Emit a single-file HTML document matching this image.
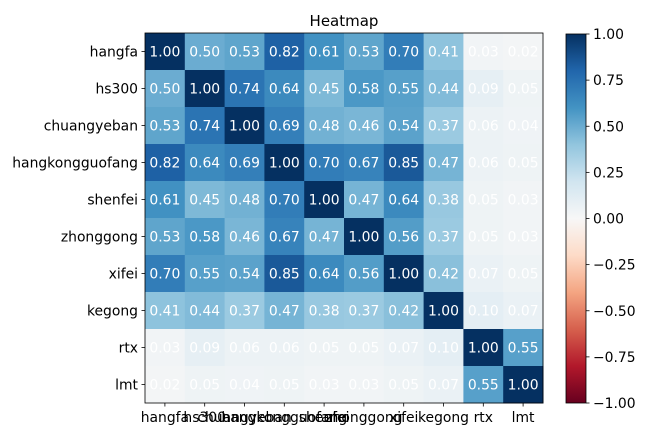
<!DOCTYPE html>
<html><head><meta charset="utf-8"><style>
html,body{margin:0;padding:0;background:#fff}
svg{display:block;font-family:"DejaVu Sans","Liberation Sans",sans-serif}
</style></head><body>
<svg id="s" width="655" height="437" xmlns="http://www.w3.org/2000/svg">
<defs><linearGradient id="g" x1="0" y1="0" x2="0" y2="1">
<stop offset="0" stop-color="#053061"/><stop offset="0.1" stop-color="#2166ac"/><stop offset="0.2" stop-color="#4393c3"/><stop offset="0.3" stop-color="#92c5de"/><stop offset="0.4" stop-color="#d1e5f0"/><stop offset="0.5" stop-color="#f7f7f7"/><stop offset="0.6" stop-color="#fddbc7"/><stop offset="0.7" stop-color="#f4a582"/><stop offset="0.8" stop-color="#d6604d"/><stop offset="0.9" stop-color="#b2182b"/><stop offset="1" stop-color="#67001f"/>
</linearGradient></defs>
<text x="344" y="26" font-size="15" text-anchor="middle">Heatmap</text>
<rect x="566" y="34" width="20" height="369" fill="url(#g)" stroke="#000" stroke-width="0.8"/>
</svg>
<script>
const names=["hangfa","hs300","chuangyeban","hangkongguofang","shenfei","zhonggong","xifei","kegong","rtx","lmt"];
const M=[
[1.00,0.50,0.53,0.82,0.61,0.53,0.70,0.41,0.03,0.02],
[0.50,1.00,0.74,0.64,0.45,0.58,0.55,0.44,0.09,0.05],
[0.53,0.74,1.00,0.69,0.48,0.46,0.54,0.37,0.06,0.04],
[0.82,0.64,0.69,1.00,0.70,0.67,0.85,0.47,0.06,0.05],
[0.61,0.45,0.48,0.70,1.00,0.47,0.64,0.38,0.05,0.03],
[0.53,0.58,0.46,0.67,0.47,1.00,0.56,0.37,0.05,0.03],
[0.70,0.55,0.54,0.85,0.64,0.56,1.00,0.42,0.07,0.05],
[0.41,0.44,0.37,0.47,0.38,0.37,0.42,1.00,0.10,0.07],
[0.03,0.09,0.06,0.06,0.05,0.05,0.07,0.10,1.00,0.55],
[0.02,0.05,0.04,0.05,0.03,0.03,0.05,0.07,0.55,1.00]];
const st=[[0xf7,0xf7,0xf7],[0xd1,0xe5,0xf0],[0x92,0xc5,0xde],[0x43,0x93,0xc3],[0x21,0x66,0xac],[0x05,0x30,0x61]];
function col(v){let t=v/0.2;let i=Math.min(4,Math.floor(t));let f=t-i;let c=st[i].map((a,k)=>Math.round(a+(st[i+1][k]-a)*f));return `rgb(${c})`;}
const s=document.getElementById('s');let h='';
const X0=145,Y0=33,W=39.8,H=37;
for(let r=0;r<10;r++)for(let c=0;c<10;c++){
h+=`<rect x="${X0+c*W}" y="${Y0+r*H}" width="${W+0.5}" height="${H+0.5}" fill="${col(M[r][c])}"/>`;
h+=`<text x="${X0+c*W+W/2}" y="${Y0+r*H+H/2+5}" font-size="13.9" fill="#fff" text-anchor="middle">${M[r][c].toFixed(2)}</text>`;}
h+=`<rect x="${X0}" y="${Y0}" width="${W*10}" height="${H*10}" fill="none" stroke="#000" stroke-width="0.8"/>`;
for(let i=0;i<10;i++){
let y=Y0+i*H+H/2,x=X0+i*W+W/2;
h+=`<line x1="${X0-3.5}" x2="${X0}" y1="${y}" y2="${y}" stroke="#000" stroke-width="0.8"/>`;
h+=`<text x="${X0-7}" y="${y+5}" font-size="13.9" text-anchor="end">${names[i]}</text>`;
h+=`<line x1="${x}" x2="${x}" y1="${Y0+H*10}" y2="${Y0+H*10+3.5}" stroke="#000" stroke-width="0.8"/>`;
h+=`<text x="${x}" y="${Y0+H*10+19}" font-size="13.9" text-anchor="middle">${names[i]}</text>`;}
const lv=[1,0.75,0.5,0.25,0,-0.25,-0.5,-0.75,-1];
lv.forEach(v=>{let y=34+(1-v)/2*369;
h+=`<line x1="586" x2="589.5" y1="${y}" y2="${y}" stroke="#000" stroke-width="0.8"/>`;
h+=`<text x="593" y="${y+5}" font-size="13.9">${v<0?'−':''}${Math.abs(v).toFixed(2)}</text>`;});
s.insertAdjacentHTML('beforeend',h);
</script>
</body></html>
